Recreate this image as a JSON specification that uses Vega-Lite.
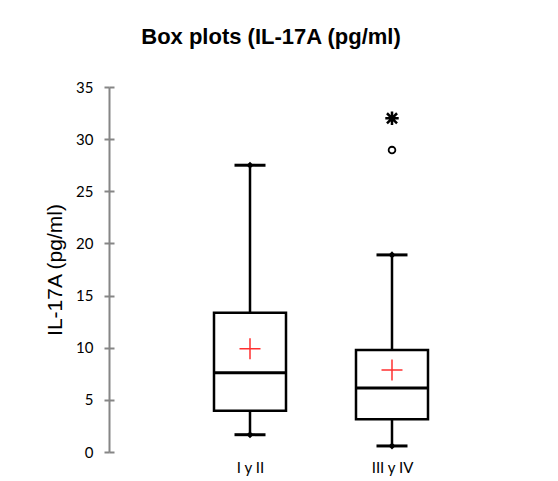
{
  "$schema": "https://vega.github.io/schema/vega-lite/v6.json",
  "autosize": "none",
  "width": 424,
  "height": 365,
  "padding": {"left": 109, "top": 87, "right": 25, "bottom": 29},
  "background": "white",
  "config": {"view": {"stroke": null}},
  "title": {
    "text": "Box plots (IL-17A (pg/ml)",
    "font": "Liberation Sans",
    "fontSize": 22,
    "fontWeight": "bold",
    "color": "black",
    "anchor": "middle",
    "dx": -50,
    "offset": 31
  },
  "datasets": {
    "boxes": [
      {"g": "I y II", "min": 1.66, "q1": 3.96, "med": 7.6, "q3": 13.36, "max": 27.5, "mean": 9.9},
      {"g": "III y IV", "min": 0.58, "q1": 3.13, "med": 6.14, "q3": 9.78, "max": 18.9, "mean": 7.86}
    ],
    "outliers": [
      {"g": "III y IV", "v": 32.0, "kind": "star"},
      {"g": "III y IV", "v": 28.95, "kind": "circle"}
    ]
  },
  "layer": [
    {
      "data": {"name": "boxes"},
      "mark": {"type": "rule", "color": "black", "strokeWidth": 2.5},
      "encoding": {
        "x": {"field": "g", "type": "nominal", "sort": null,
          "scale": {"type": "point", "padding": 0.993},
          "axis": {"title": null, "domain": false, "ticks": false, "labelAngle": 0,
            "labelFont": "Lato", "labelFontSize": 15, "labelColor": "black", "labelPadding": 8}},
        "y": {"field": "min", "type": "quantitative",
          "scale": {"domain": [0, 35], "nice": false, "zero": true},
          "axis": {"title": "IL-17A (pg/ml)", "values": [0, 5, 10, 15, 20, 25, 30, 35],
            "titleFont": "Liberation Sans", "titleFontSize": 21, "titleFontWeight": "normal", "titleColor": "black", "titlePadding": 10,
            "labelFont": "Lato", "labelFontSize": 15, "labelColor": "black", "labelPadding": 11,
            "domainColor": "#868686", "domainWidth": 2, "tickColor": "#868686", "tickWidth": 2, "tickSize": 5, "grid": false}},
        "y2": {"field": "max"}
      }
    },
    {
      "data": {"name": "boxes"},
      "mark": {"type": "bar", "fill": "white", "stroke": "black", "strokeWidth": 2.5, "size": 72, "opacity": 1},
      "encoding": {
        "x": {"field": "g", "type": "nominal", "sort": null},
        "y": {"field": "q1", "type": "quantitative", "axis": {"orient": "left", "offset": -5, "domain": false, "labels": false, "title": null, "values": [0, 5, 10, 15, 20, 25, 30, 35], "tickColor": "#868686", "tickWidth": 2, "tickSize": 5, "grid": false}},
        "y2": {"field": "q3"}
      }
    },
    {
      "data": {"name": "boxes"},
      "mark": {"type": "tick", "color": "black", "thickness": 3, "size": 72, "opacity": 1},
      "encoding": {
        "x": {"field": "g", "type": "nominal", "sort": null},
        "y": {"field": "med", "type": "quantitative", "axis": null}
      }
    },
    {
      "data": {"name": "boxes"},
      "mark": {"type": "tick", "color": "black", "thickness": 3, "size": 31, "opacity": 1},
      "encoding": {
        "x": {"field": "g", "type": "nominal", "sort": null},
        "y": {"field": "min", "type": "quantitative", "axis": null}
      }
    },
    {
      "data": {"name": "boxes"},
      "mark": {"type": "tick", "color": "black", "thickness": 3, "size": 31, "opacity": 1},
      "encoding": {
        "x": {"field": "g", "type": "nominal", "sort": null},
        "y": {"field": "max", "type": "quantitative", "axis": null}
      }
    },
    {
      "data": {"name": "boxes"},
      "mark": {"type": "point", "shape": "diamond", "filled": true, "color": "black", "size": 50, "opacity": 1},
      "encoding": {
        "x": {"field": "g", "type": "nominal", "sort": null},
        "y": {"field": "min", "type": "quantitative", "axis": null}
      }
    },
    {
      "data": {"name": "boxes"},
      "mark": {"type": "point", "shape": "diamond", "filled": true, "color": "black", "size": 50, "opacity": 1},
      "encoding": {
        "x": {"field": "g", "type": "nominal", "sort": null},
        "y": {"field": "max", "type": "quantitative", "axis": null}
      }
    },
    {
      "data": {"name": "boxes"},
      "mark": {"type": "point", "shape": "M-1,0H1M0,-1V1", "filled": false, "stroke": "#ff3030", "strokeWidth": 1.5, "size": 441, "opacity": 1},
      "encoding": {
        "x": {"field": "g", "type": "nominal", "sort": null},
        "y": {"field": "mean", "type": "quantitative", "axis": null}
      }
    },
    {
      "data": {"name": "outliers"},
      "transform": [{"filter": "datum.kind === 'circle'"}],
      "mark": {"type": "point", "shape": "circle", "filled": false, "stroke": "black", "strokeWidth": 1.8, "size": 45, "opacity": 1},
      "encoding": {
        "x": {"field": "g", "type": "nominal", "sort": null},
        "y": {"field": "v", "type": "quantitative", "axis": null}
      }
    },
    {
      "data": {"name": "outliers"},
      "transform": [{"filter": "datum.kind === 'star'"}],
      "mark": {"type": "point", "shape": "M-1,0H1M0,-1V1M-0.75,-0.75L0.75,0.75M-0.75,0.75L0.75,-0.75", "filled": false, "stroke": "black", "strokeWidth": 2.5, "size": 180, "opacity": 1},
      "encoding": {
        "x": {"field": "g", "type": "nominal", "sort": null},
        "y": {"field": "v", "type": "quantitative", "axis": null}
      }
    }
  ],
  "resolve": {"axis": {"y": "independent"}}
}
